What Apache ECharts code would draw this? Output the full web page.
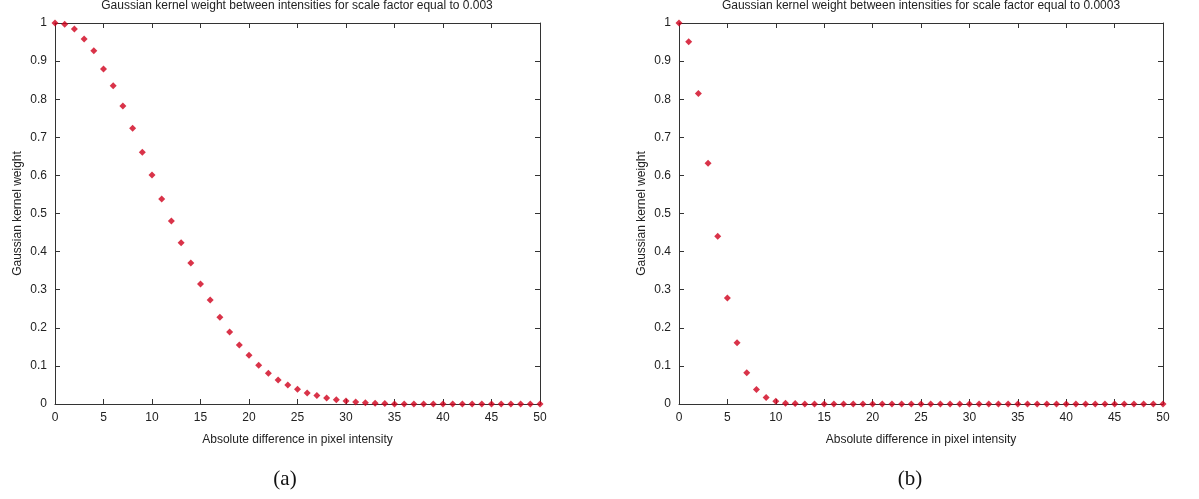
<!DOCTYPE html>
<html><head><meta charset="utf-8">
<script src="https://cdn.jsdelivr.net/npm/echarts@6/dist/echarts.min.js"></script>
<style>html,body{margin:0;padding:0;background:#fff}#c{width:1199px;height:499px}</style>
</head><body><div id="c"></div>
<script>
var xValues = [0,1,2,3,4,5,6,7,8,9,10,11,12,13,14,15,16,17,18,19,20,21,22,23,24,25,26,27,28,29,30,31,32,33,34,35,36,37,38,39,40,41,42,43,44,45,46,47,48,49,50];
var weightsA = [1,0.997,0.984,0.958,0.927,0.879,0.835,0.782,0.724,0.661,0.601,0.538,0.48,0.423,0.37,0.315,0.273,0.228,0.189,0.155,0.128,0.102,0.081,0.063,0.05,0.039,0.029,0.022,0.016,0.011,0.008,0.005,0.003,0.002,0.001,0,0,0,0,0,0,0,0,0,0,0,0,0,0,0,0];
var weightsB = [1,0.951,0.815,0.632,0.44,0.278,0.161,0.082,0.038,0.017,0.007,0.002,0.001,0,0,0,0,0,0,0,0,0,0,0,0,0,0,0,0,0,0,0,0,0,0,0,0,0,0,0,0,0,0,0,0,0,0,0,0,0,0];
var titleA = 'Gaussian kernel weight between intensities for scale factor equal to 0.003';
var titleB = 'Gaussian kernel weight between intensities for scale factor equal to 0.0003';
var xName = 'Absolute difference in pixel intensity';
var yName = 'Gaussian kernel weight';
var captions = ['(a)', '(b)'];

var FONT = '"Liberation Sans", Arial, sans-serif';
var TXT = '#222';
var LINE = '#333';

function pairData(ys){ return xValues.map(function(x,i){ return [x, ys[i]]; }); }

function xAx(gi, pos){
  var main = pos === 'bottom';
  return {
    gridIndex: gi, type: 'value', position: pos, min: 0, max: 50, interval: 5,
    name: main ? xName : '', nameLocation: 'middle', nameGap: 30,
    nameTextStyle: {color: TXT, fontSize: 12, fontFamily: FONT},
    axisLine: {show: true, onZero: false, lineStyle: {color: LINE, width: 1}},
    axisTick: {show: true, inside: true, length: 5, lineStyle: {color: LINE}},
    axisLabel: {show: main, color: TXT, fontSize: 12, fontFamily: FONT, margin: 8},
    splitLine: {show: false}
  };
}
function yAx(gi, pos){
  var main = pos === 'left';
  return {
    gridIndex: gi, type: 'value', position: pos, min: 0, max: 1, interval: 0.1,
    name: main ? yName : '', nameLocation: 'middle', nameGap: 31,
    nameTextStyle: {color: TXT, fontSize: 12, fontFamily: FONT},
    axisLine: {show: true, onZero: false, lineStyle: {color: LINE, width: 1}},
    axisTick: {show: true, inside: true, length: 5, lineStyle: {color: LINE}},
    axisLabel: {show: main, color: TXT, fontSize: 12, fontFamily: FONT, margin: 8,
      formatter: function(v){ return String(Math.round(v*10)/10); }},
    splitLine: {show: false}
  };
}

var chart = echarts.init(document.getElementById('c'));
chart.setOption({
  backgroundColor: '#fff',
  animation: false,
  title: [
    {text: titleA, left: 297, top: 0, textAlign: 'center', padding: 0,
     textStyle: {fontSize: 12, fontWeight: 'normal', color: TXT, fontFamily: FONT}},
    {text: titleB, left: 921, top: 0, textAlign: 'center', padding: 0,
     textStyle: {fontSize: 12, fontWeight: 'normal', color: TXT, fontFamily: FONT}},
    {text: captions[0], left: 285, top: 469, textAlign: 'center', padding: 0,
     textStyle: {fontSize: 21, fontWeight: 'normal', color: '#111', fontFamily: '"Liberation Serif", "DejaVu Serif", serif'}},
    {text: captions[1], left: 910, top: 469, textAlign: 'center', padding: 0,
     textStyle: {fontSize: 21, fontWeight: 'normal', color: '#111', fontFamily: '"Liberation Serif", "DejaVu Serif", serif'}}
  ],
  grid: [
    {left: 55, right: 659, top: 23, bottom: 95},
    {left: 679, right: 36, top: 23, bottom: 95}
  ],
  xAxis: [xAx(0,'bottom'), xAx(0,'top'), xAx(1,'bottom'), xAx(1,'top')],
  yAxis: [yAx(0,'left'), yAx(0,'right'), yAx(1,'left'), yAx(1,'right')],
  series: [
    {type: 'scatter', xAxisIndex: 0, yAxisIndex: 0, data: pairData(weightsA),
     symbol: 'diamond', symbolSize: 7, itemStyle: {color: '#d0001c'}, clip: false},
    {type: 'scatter', xAxisIndex: 2, yAxisIndex: 2, data: pairData(weightsB),
     symbol: 'diamond', symbolSize: 7, itemStyle: {color: '#d0001c'}, clip: false}
  ]
});
</script></body></html>
